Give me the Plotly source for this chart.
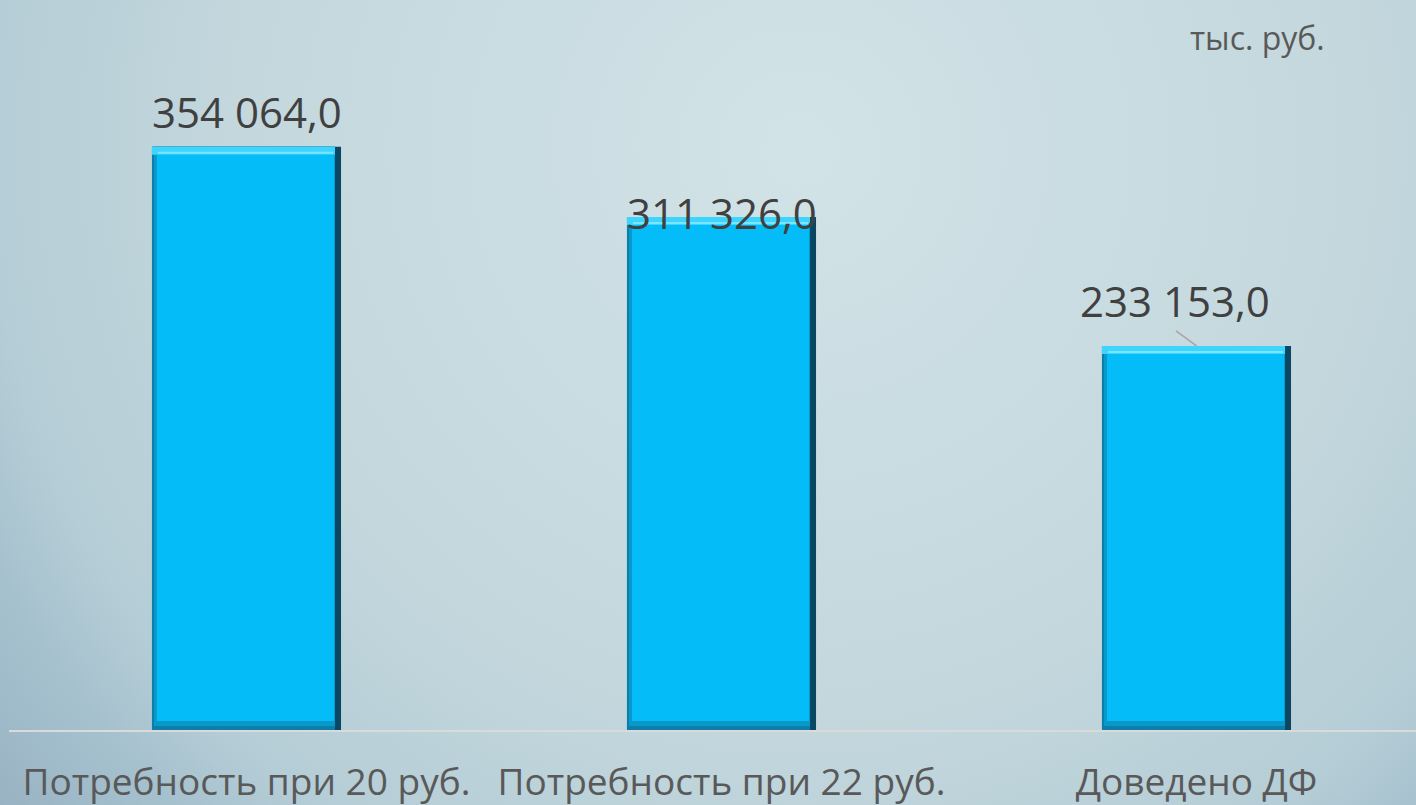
import base64
import plotly.graph_objects as go

# ---- data ----
categories = ["Потребность при 20 руб.", "Потребность при 22 руб.", "Доведено ДФ"]
values = [354064.0, 311326.0, 233153.0]
value_labels = ["354 064,0", "311 326,0", "233 153,0"]
unit_label = "тыс. руб."

# ---- layout geometry ----
W_FIG, H_FIG = 1416, 805
M_L, M_R, M_T, M_B = 9, 0, 71, 75
PLOT_W = W_FIG - M_L - M_R
PLOT_H = H_FIG - M_T - M_B
Y_MAX = 400000
PX_PER_CAT = 475.0
X_RANGE = [-0.5, -0.5 + PLOT_W / PX_PER_CAT]
BAR_W = 0.398

def dx(px):
    return px / PX_PER_CAT

def dy(px):
    return px * Y_MAX / PLOT_H

fig = go.Figure()

# dark outer (right edge shadow)
fig.add_trace(go.Bar(x=categories, y=values, width=BAR_W, marker=dict(color="#0B4763", line=dict(width=0)),
                     hoverinfo="skip", showlegend=False))
# bottom / left bevel
fig.add_trace(go.Bar(x=categories, y=values, width=BAR_W - dx(6), offset=-BAR_W / 2,
                     marker=dict(color="#0A7FAB", line=dict(width=0)), hoverinfo="skip", showlegend=False))
fig.add_trace(go.Bar(x=categories, y=[v - dy(4) for v in values], base=[dy(4)] * len(values),
                     width=BAR_W - dx(8), offset=-BAR_W / 2 + dx(2),
                     marker=dict(color="#0A98C9", line=dict(width=0)), hoverinfo="skip", showlegend=False))
# main face
fig.add_trace(go.Bar(x=categories, y=[v - dy(17) for v in values], base=[dy(9)] * len(values),
                     width=BAR_W - dx(12), offset=-BAR_W / 2 + dx(5),
                     marker=dict(color="#04BCF8", line=dict(width=0)), hoverinfo="skip", showlegend=False))
# top highlight
fig.add_trace(go.Bar(x=categories, y=[dy(8)] * len(values), base=[v - dy(8) for v in values],
                     width=BAR_W - dx(6), offset=-BAR_W / 2,
                     marker=dict(color="#3DD4FD", line=dict(width=0)), hoverinfo="skip", showlegend=False))
fig.add_trace(go.Bar(x=categories, y=[dy(2)] * len(values), base=[v - dy(7) for v in values],
                     width=BAR_W - dx(14), offset=-BAR_W / 2 + dx(6),
                     marker=dict(color="#7BE6FF", line=dict(width=0)), hoverinfo="skip", showlegend=False))

# data labels
label_font = dict(family="Open Sans, sans-serif", size=42, color="#404040")
yshifts = [35, 5, 45]
xshifts = [0, 0, -22]
for i in range(len(values)):
    fig.add_annotation(x=categories[i], y=values[i], text=value_labels[i], showarrow=False,
                       xanchor="center", yanchor="middle", yshift=yshifts[i], xshift=xshifts[i],
                       font=label_font)
# leader line for the third label
fig.add_annotation(x=categories[2], y=values[2], text="", showarrow=True,
                   ax=-22, ay=-16, arrowhead=0, arrowwidth=1.5, arrowcolor="#A9A3A3", standoff=0)

# unit label
fig.add_annotation(x=(1257 - M_L) / PLOT_W, y=(H_FIG - M_B - 37) / PLOT_H, xref="paper", yref="paper",
                   xanchor="center", yanchor="middle", text=unit_label, showarrow=False,
                   font=dict(family="Open Sans, sans-serif", size=32, color="#595959"))

# gradient background
svg = f'''<svg xmlns="http://www.w3.org/2000/svg" width="{W_FIG}" height="{H_FIG}">
<defs><radialGradient id="g" cx="800" cy="150" r="1040" gradientUnits="userSpaceOnUse">
<stop offset="0" stop-color="#D2E3E7"/><stop offset="0.55" stop-color="#C3D7DD"/>
<stop offset="0.78" stop-color="#B5CDD6"/><stop offset="0.87" stop-color="#A6C1CE"/>
<stop offset="1" stop-color="#98B2C3"/></radialGradient></defs>
<rect width="{W_FIG}" height="{H_FIG}" fill="url(#g)"/></svg>'''
src = "data:image/svg+xml;base64," + base64.b64encode(svg.encode()).decode()
fig.add_layout_image(source=src, xref="paper", yref="paper",
                     x=-M_L / PLOT_W, y=1 + M_T / PLOT_H,
                     sizex=W_FIG / PLOT_W, sizey=H_FIG / PLOT_H,
                     xanchor="left", yanchor="top", sizing="stretch", layer="below")

fig.update_layout(
    width=W_FIG, height=H_FIG,
    margin=dict(l=M_L, r=M_R, t=M_T, b=M_B, pad=0, autoexpand=False),
    barmode="overlay",
    paper_bgcolor="#BDD2D9", plot_bgcolor="rgba(0,0,0,0)",
    showlegend=False,
    xaxis=dict(range=X_RANGE, showgrid=False, zeroline=False, showline=True, linecolor="#DADADA",
               linewidth=2, ticks="outside", ticklen=19, tickcolor="rgba(0,0,0,0)", automargin=False,
               tickfont=dict(family="Open Sans, sans-serif", size=37, color="#595959")),
    yaxis=dict(range=[0, Y_MAX], visible=False, showgrid=False, zeroline=False, automargin=False),
)

fig.write_html("out.html", config={"displayModeBar": False},
               post_script="document.body.style.margin='0px';")
